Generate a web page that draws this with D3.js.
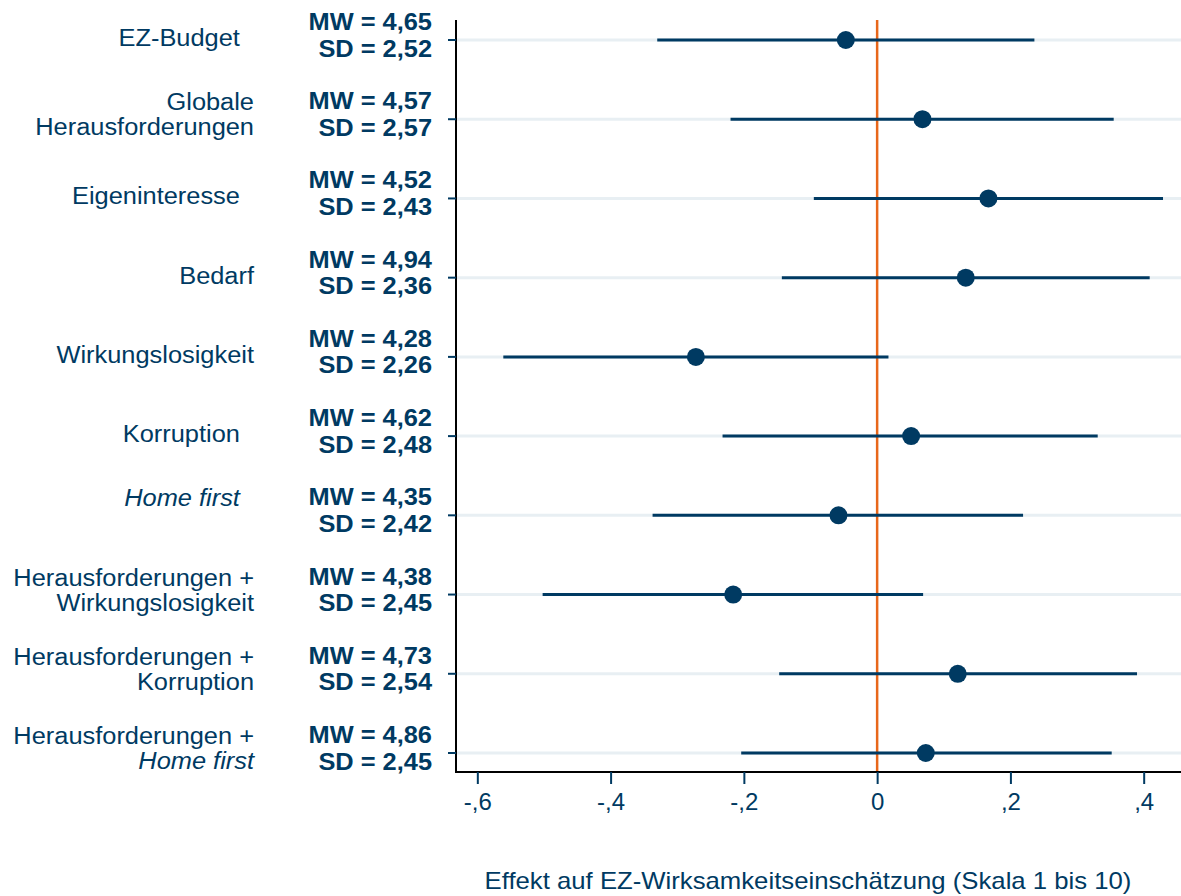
<!DOCTYPE html>
<html>
<head>
<meta charset="utf-8">
<script src="https://cdn.jsdelivr.net/npm/d3@7"></script>
<style>
  html, body { margin: 0; padding: 0; background: #fff; }
  svg { display: block; }
  text { font-family: Arial, "Liberation Sans", Helvetica, sans-serif; }
</style>
</head>
<body>
<svg id="chart" width="1181" height="896"></svg>
<script>
// ---- data ----
const categories = [
  [{t: "EZ-Budget\u00a0\u00a0"}],
  [{t: "Globale"}, {t: "Herausforderungen"}],
  [{t: "Eigeninteresse\u00a0\u00a0"}],
  [{t: "Bedarf"}],
  [{t: "Wirkungslosigkeit"}],
  [{t: "Korruption\u00a0\u00a0"}],
  [{t: "Home first\u00a0\u00a0", it: true}, {t: ""}],
  [{t: "Herausforderungen +"}, {t: "Wirkungslosigkeit"}],
  [{t: "Herausforderungen +"}, {t: "Korruption"}],
  [{t: "Herausforderungen +"}, {t: "Home first", it: true}]
];
const mwLabels = ["4,65", "4,57", "4,52", "4,94", "4,28", "4,62", "4,35", "4,38", "4,73", "4,86"];
const sdLabels = ["2,52", "2,57", "2,43", "2,36", "2,26", "2,48", "2,42", "2,45", "2,54", "2,45"];
const estimates = [-0.047, 0.068, 0.167, 0.133, -0.272, 0.051, -0.058, -0.216, 0.121, 0.073];
const ciLow     = [-0.330, -0.220, -0.095, -0.143, -0.561, -0.232, -0.337, -0.502, -0.147, -0.204];
const ciHigh    = [0.236, 0.355, 0.429, 0.409, 0.017, 0.331, 0.219, 0.069, 0.390, 0.352];
const xTicks = [-0.6, -0.4, -0.2, 0, 0.2, 0.4];
const xTickLabels = ["-,6", "-,4", "-,2", "0", ",2", ",4"];
const xTitle = "Effekt auf EZ-Wirksamkeitseinschätzung (Skala 1 bis 10)";

// ---- layout ----
const navy = "#003a62";
const orange = "#e8671a";
const grid = "#e8eff3";
const plotLeft = 456, plotRight = 1181, plotTop = 20, plotBottom = 772;
const sx = 1.09; // horizontal text stretch of the original

const svg = d3.select("#chart");
svg.append("rect").attr("width", 1181).attr("height", 896).attr("fill", "#fff");

const x = d3.scaleLinear().domain([-0.632, 0.456]).range([plotLeft, plotRight]);
const y = d3.scaleLinear().domain([0, categories.length - 1]).range([40, 753]);
const idx = d3.range(categories.length);

// gridlines
svg.append("g").selectAll("line").data(idx).join("line")
  .attr("x1", plotLeft).attr("x2", plotRight)
  .attr("y1", d => y(d)).attr("y2", d => y(d))
  .attr("stroke", grid).attr("stroke-width", 3);

// reference line at 0
svg.append("line")
  .attr("x1", x(0)).attr("x2", x(0)).attr("y1", plotTop).attr("y2", plotBottom)
  .attr("stroke", orange).attr("stroke-width", 2.5);

// CIs
svg.append("g").selectAll("line").data(idx).join("line")
  .attr("x1", d => x(ciLow[d])).attr("x2", d => x(ciHigh[d]))
  .attr("y1", d => y(d)).attr("y2", d => y(d))
  .attr("stroke", navy).attr("stroke-width", 3);

// points
svg.append("g").selectAll("circle").data(idx).join("circle")
  .attr("cx", d => x(estimates[d])).attr("cy", d => y(d)).attr("r", 9)
  .attr("fill", navy);

// y axis line + ticks
svg.append("line").attr("x1", plotLeft).attr("x2", plotLeft)
  .attr("y1", plotTop).attr("y2", plotBottom + 1)
  .attr("stroke", "#000").attr("stroke-width", 2);
svg.append("g").selectAll("line").data(idx).join("line")
  .attr("x1", plotLeft - 8).attr("x2", plotLeft)
  .attr("y1", d => y(d)).attr("y2", d => y(d))
  .attr("stroke", navy).attr("stroke-width", 2);

// x axis
const xAxis = d3.axisBottom(x).tickValues(xTicks)
  .tickFormat((d, i) => xTickLabels[i]).tickSize(12).tickSizeOuter(0);
const gx = svg.append("g").attr("transform", `translate(0,${plotBottom})`).call(xAxis);
gx.select(".domain").attr("stroke", "#000").attr("stroke-width", 2)
  .attr("d", `M${plotLeft - 1},0H${plotRight}`);
gx.selectAll(".tick line").attr("stroke", navy).attr("stroke-width", 2);
gx.selectAll(".tick text").attr("fill", navy).attr("font-size", 24)
  .attr("y", 38).attr("dy", 0);

// helper for stretched text
function stretchedText(parent, tx, ty, str, opts) {
  const g = parent.append("g").attr("transform", `translate(${tx},${ty}) scale(${sx},1)`);
  const t = g.append("text").attr("x", 0).attr("y", 0)
    .attr("text-anchor", opts.anchor || "end")
    .attr("fill", navy)
    .attr("font-size", opts.size || 23.3)
    .style("white-space", "pre")
    .text(str);
  if (opts.bold) t.attr("font-weight", "bold");
  if (opts.italic) t.attr("font-style", "italic");
  return t;
}

// category labels
const labG = svg.append("g");
idx.forEach(i => {
  const lines = categories[i];
  const yy = y(i);
  if (lines.length === 1) {
    stretchedText(labG, 254, yy + 6, lines[0].t, {italic: lines[0].it});
  } else {
    stretchedText(labG, 254, yy - 9, lines[0].t, {italic: lines[0].it});
    if (lines[1].t) stretchedText(labG, 254, yy + 16, lines[1].t, {italic: lines[1].it});
  }
  stretchedText(labG, 432, yy - 10, "MW = " + mwLabels[i], {bold: true});
  stretchedText(labG, 432, yy + 16.5, "SD = " + sdLabels[i], {bold: true});
});

// x title
stretchedText(svg, 808, 889, xTitle, {anchor: "middle", size: 23.6});
</script>
</body>
</html>
